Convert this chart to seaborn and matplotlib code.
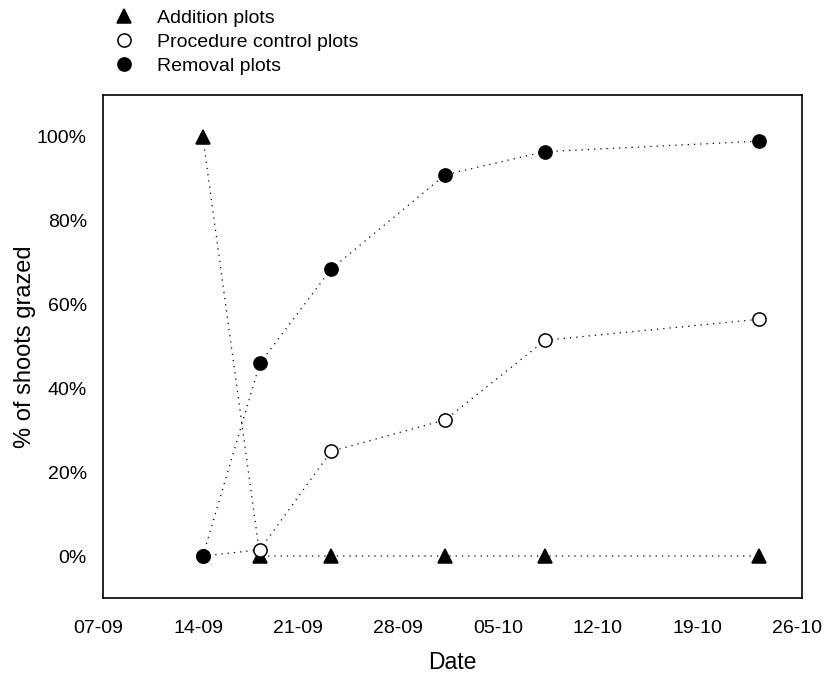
import numpy as np
import pandas as pd
import matplotlib
matplotlib.use('Agg')
import matplotlib.pyplot as plt
import matplotlib.dates as mdates
import matplotlib.transforms as mtransforms
from matplotlib.lines import Line2D
from matplotlib.ticker import FuncFormatter
import seaborn as sns

# data
dates = ['2008-09-14', '2008-09-18', '2008-09-23', '2008-10-01', '2008-10-08', '2008-10-23']
addition = [100, 0, 0, 0, 0, 0]
control = [0, 1.5, 25, 32.5, 51.5, 56.5]
removal = [0, 46, 68.5, 91, 96.5, 99]
series_names = ['Addition plots', 'Procedure control plots', 'Removal plots']

sns.set_theme(style='white')
plt.rcParams['font.family'] = ['Liberation Sans', 'DejaVu Sans']
plt.rcParams['text.color'] = 'black'
plt.rcParams['axes.labelcolor'] = 'black'

df = pd.DataFrame({
    'Date': pd.to_datetime(dates * 3),
    'pct': addition + control + removal,
    'group': np.repeat(series_names, len(dates)),
})

fig = plt.figure(figsize=(8.25, 6.74), dpi=100)
ax = fig.add_axes([0.1248, 0.1128, 0.8473, 0.7462])

# marker styles per group
styles = {
    'Addition plots': dict(marker='^', mfc='black'),
    'Procedure control plots': dict(marker='o', mfc='white'),
    'Removal plots': dict(marker='o', mfc='black'),
}

for name in series_names:
    sub = df[df['group'] == name]
    st = styles[name]
    sns.lineplot(data=sub, x='Date', y='pct', ax=ax, color='black', lw=0.9,
                 marker=st['marker'], markersize=9.5, markerfacecolor=st['mfc'],
                 markeredgecolor='black', markeredgewidth=1.1, dashes=(1, 4))

ax.set_xlim(pd.Timestamp('2008-09-07'), pd.Timestamp('2008-10-26'))
ax.set_ylim(-10, 110)
ax.set_xticks(pd.date_range('2008-09-07', '2008-10-26', freq='7D'))
ax.xaxis.set_major_formatter(mdates.DateFormatter('%d-%m'))
ax.set_yticks([0, 20, 40, 60, 80, 100])
ax.yaxis.set_major_formatter(FuncFormatter(lambda v, p: '%d%%' % v))

for s in ax.spines.values():
    s.set_color('black')
    s.set_linewidth(1.2)
ax.tick_params(direction='out', length=6, width=1.2, labelsize=14, colors='black')
ax.tick_params(axis='x', pad=10)
ax.tick_params(axis='y', pad=5.5)

# date labels sit a little left of their ticks in the original
shift = mtransforms.ScaledTranslation(-4.5 / 100, 0, fig.dpi_scale_trans)
for lab in ax.get_xticklabels():
    lab.set_transform(lab.get_transform() + shift)

ax.set_xlabel('Date', fontsize=16.5, labelpad=10)
ax.set_ylabel('% of shoots grazed', fontsize=17)
ax.yaxis.set_label_coords(-0.096, 0.5)

handles = [Line2D([], [], ls='none', marker=styles[n]['marker'], markersize=9.5,
                  markerfacecolor=styles[n]['mfc'], markeredgecolor='black',
                  markeredgewidth=1.1) for n in series_names]
fig.legend(handles, series_names, loc='upper left', bbox_to_anchor=(0.1173, 1.012),
           frameon=False, fontsize=14, handlelength=1, handletextpad=1.2,
           labelspacing=0.33)

fig.savefig('out.png', dpi=100)
